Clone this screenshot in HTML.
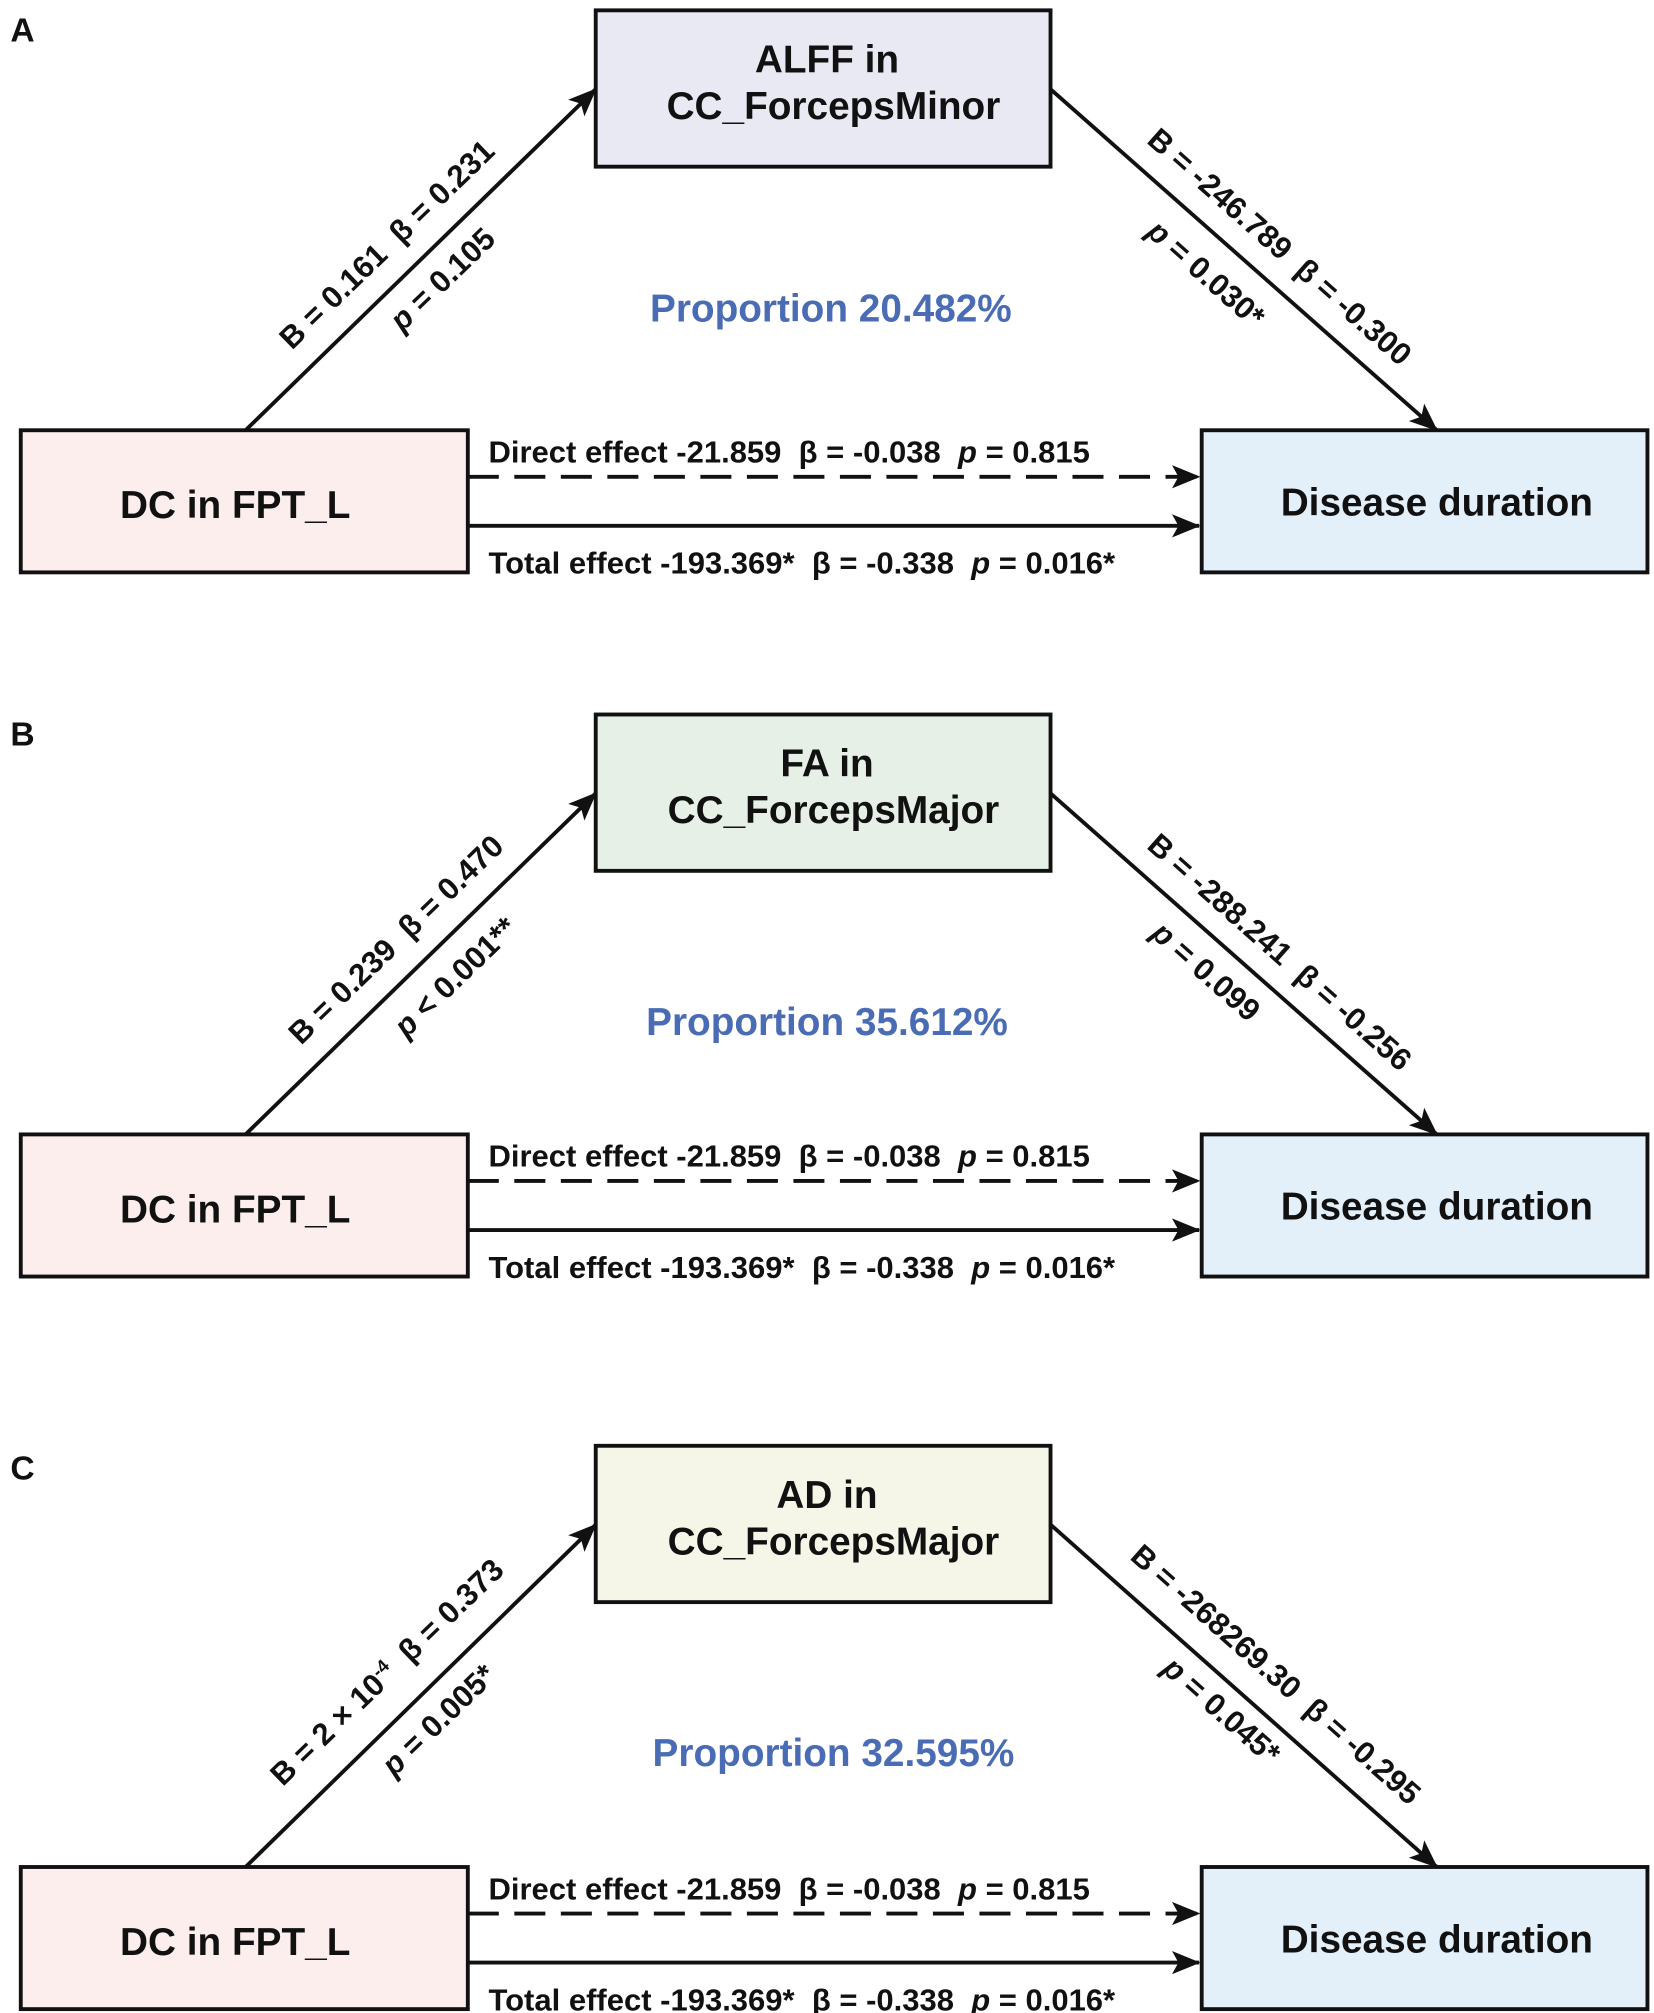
<!DOCTYPE html>
<html><head><meta charset="utf-8"><style>
html,body{margin:0;padding:0;background:#fff}
svg{display:block}
text{font-family:"Liberation Sans",Arial,sans-serif;font-weight:bold;fill:#111;white-space:pre}
</style></head><body>
<svg width="1654" height="2013" viewBox="0 0 1280 1558" xmlns="http://www.w3.org/2000/svg" xml:space="preserve">
<defs>
<marker id="a2" markerWidth="22" markerHeight="18" refX="21" refY="9" orient="auto" markerUnits="userSpaceOnUse">
<path d="M0,0 L22,9 L0,18 L5,9 z" fill="#111"/>
</marker>
</defs>

<text x="8" y="32" font-size="26">A</text>
<g>
<rect x="461" y="8" width="352" height="121" fill="#e9e9f4" stroke="#111" stroke-width="3"/>
<text x="640" y="56" font-size="30" text-anchor="middle">ALFF in</text>
<text x="645" y="92" font-size="30" text-anchor="middle">CC_ForcepsMinor</text>
<rect x="16" y="333" width="346" height="110" fill="#fbeeec" stroke="#111" stroke-width="3"/>
<text x="182" y="401" font-size="30" text-anchor="middle">DC in FPT_L</text>
<rect x="930" y="333" width="345" height="110" fill="#e3eff9" stroke="#111" stroke-width="3"/>
<text x="1112" y="399" font-size="30" text-anchor="middle">Disease duration</text>
<line x1="190" y1="333" x2="461" y2="69" stroke="#111" stroke-width="3" marker-end="url(#a2)"/>
<line x1="813" y1="69" x2="1112" y2="333" stroke="#111" stroke-width="3" marker-end="url(#a2)"/>
<line x1="362" y1="369" x2="928" y2="369" stroke="#111" stroke-width="3" stroke-dasharray="24,12" marker-end="url(#a2)"/>
<line x1="362" y1="407" x2="928" y2="407" stroke="#111" stroke-width="3" marker-end="url(#a2)"/>
<text x="378" y="358" font-size="24">Direct effect -21.859  β = -0.038  <tspan font-style="italic">p</tspan> = 0.815</text>
<text x="378" y="444" font-size="24">Total effect -193.369*  β = -0.338  <tspan font-style="italic">p</tspan> = 0.016*</text>
<text x="643" y="249" font-size="30" text-anchor="middle" style="fill:#4a6cb5">Proportion 20.482%</text>
<text transform="translate(305,195) rotate(-44)" font-size="24" text-anchor="middle">B = 0.161  β = 0.231</text>
<text transform="translate(348,222) rotate(-44)" font-size="24" text-anchor="middle"><tspan font-style="italic">p</tspan> = 0.105</text>
<text transform="translate(985,197) rotate(41.5)" font-size="24" text-anchor="middle">B = -246.789  β = -0.300</text>
<text transform="translate(928,218) rotate(41.5)" font-size="24" text-anchor="middle"><tspan font-style="italic">p</tspan> = 0.030*</text>
</g>

<text x="8" y="577" font-size="26">B</text>
<g transform="translate(0,545)">
<rect x="461" y="8" width="352" height="121" fill="#e6f0e6" stroke="#111" stroke-width="3"/>
<text x="640" y="56" font-size="30" text-anchor="middle">FA in</text>
<text x="645" y="92" font-size="30" text-anchor="middle">CC_ForcepsMajor</text>
<rect x="16" y="333" width="346" height="110" fill="#fbeeec" stroke="#111" stroke-width="3"/>
<text x="182" y="401" font-size="30" text-anchor="middle">DC in FPT_L</text>
<rect x="930" y="333" width="345" height="110" fill="#e3eff9" stroke="#111" stroke-width="3"/>
<text x="1112" y="399" font-size="30" text-anchor="middle">Disease duration</text>
<line x1="190" y1="333" x2="461" y2="69" stroke="#111" stroke-width="3" marker-end="url(#a2)"/>
<line x1="813" y1="69" x2="1112" y2="333" stroke="#111" stroke-width="3" marker-end="url(#a2)"/>
<line x1="362" y1="369" x2="928" y2="369" stroke="#111" stroke-width="3" stroke-dasharray="24,12" marker-end="url(#a2)"/>
<line x1="362" y1="407" x2="928" y2="407" stroke="#111" stroke-width="3" marker-end="url(#a2)"/>
<text x="378" y="358" font-size="24">Direct effect -21.859  β = -0.038  <tspan font-style="italic">p</tspan> = 0.815</text>
<text x="378" y="444" font-size="24">Total effect -193.369*  β = -0.338  <tspan font-style="italic">p</tspan> = 0.016*</text>
<text x="640" y="256" font-size="30" text-anchor="middle" style="fill:#4a6cb5">Proportion 35.612%</text>
<text transform="translate(312,188) rotate(-44)" font-size="24" text-anchor="middle">B = 0.239  β = 0.470</text>
<text transform="translate(358,217) rotate(-44)" font-size="24" text-anchor="middle"><tspan font-style="italic">p</tspan> &lt; 0.001**</text>
<text transform="translate(985,198) rotate(41.5)" font-size="24" text-anchor="middle">B = -288.241  β = -0.256</text>
<text transform="translate(928,213) rotate(41.5)" font-size="24" text-anchor="middle"><tspan font-style="italic">p</tspan> = 0.099</text>
</g>

<text x="8" y="1145" font-size="26">C</text>
<g transform="translate(0,1112)">
<rect x="461" y="7" width="352" height="121" fill="#f6f6e8" stroke="#111" stroke-width="3"/>
<text x="640" y="55" font-size="30" text-anchor="middle">AD in</text>
<text x="645" y="91" font-size="30" text-anchor="middle">CC_ForcepsMajor</text>
<rect x="16" y="333" width="346" height="110" fill="#fbeeec" stroke="#111" stroke-width="3"/>
<text x="182" y="401" font-size="30" text-anchor="middle">DC in FPT_L</text>
<rect x="930" y="333" width="345" height="110" fill="#e3eff9" stroke="#111" stroke-width="3"/>
<text x="1112" y="399" font-size="30" text-anchor="middle">Disease duration</text>
<line x1="190" y1="333" x2="461" y2="68" stroke="#111" stroke-width="3" marker-end="url(#a2)"/>
<line x1="813" y1="68" x2="1112" y2="333" stroke="#111" stroke-width="3" marker-end="url(#a2)"/>
<line x1="362" y1="369" x2="928" y2="369" stroke="#111" stroke-width="3" stroke-dasharray="24,12" marker-end="url(#a2)"/>
<line x1="362" y1="407" x2="928" y2="407" stroke="#111" stroke-width="3" marker-end="url(#a2)"/>
<text x="378" y="358" font-size="24">Direct effect -21.859  β = -0.038  <tspan font-style="italic">p</tspan> = 0.815</text>
<text x="378" y="444" font-size="24">Total effect -193.369*  β = -0.338  <tspan font-style="italic">p</tspan> = 0.016*</text>
<text x="645" y="255" font-size="30" text-anchor="middle" style="fill:#4a6cb5">Proportion 32.595%</text>
<text transform="translate(305,188) rotate(-44)" font-size="24" text-anchor="middle">B = 2 × 10<tspan font-size="14" dy="-9">-4</tspan><tspan dy="9">  β = 0.373</tspan></text>
<text transform="translate(345,225) rotate(-44)" font-size="24" text-anchor="middle"><tspan font-style="italic">p</tspan> = 0.005*</text>
<text transform="translate(982,190) rotate(41.5)" font-size="24" text-anchor="middle">B = -268269.30  β = -0.295</text>
<text transform="translate(940,218) rotate(41.5)" font-size="24" text-anchor="middle"><tspan font-style="italic">p</tspan> = 0.045*</text>
</g>
</svg>
</body></html>
